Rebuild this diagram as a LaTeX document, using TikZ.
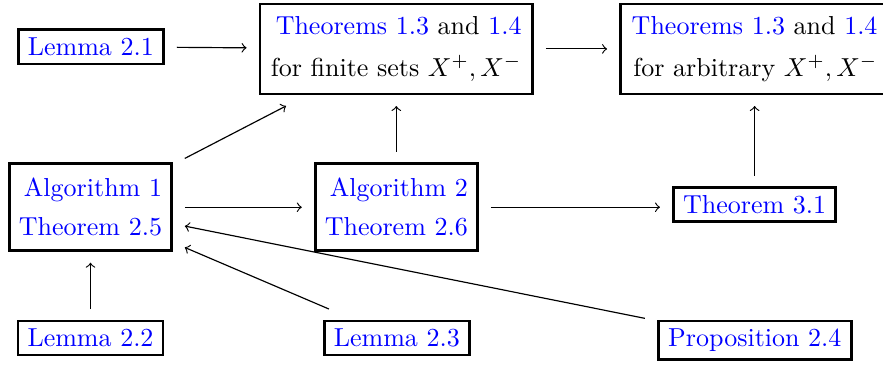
\documentclass[tikz,border=0pt]{standalone}
\usepackage{xcolor}
\begin{document}
\begin{tikzpicture}[x=0.384615pt,y=-0.384615pt,
  box/.style={draw,line width=1pt,inner sep=0pt,outer xsep=5.2pt,outer ysep=4.6pt,text=blue},
  two/.style={box,align=right},
  arr/.style={->,line width=0.45pt}]
\useasboundingbox (0,0) rectangle (883,364);
\clip (0,0) rectangle (883,364);
% nodes
\node[box,minimum width=55.8pt,minimum height=13.3pt] (l21) at (90.8,46.7) {Lemma 2.1};
\node[two,minimum width=104.7pt,minimum height=34.7pt] (fin) at (396.2,48.9)
  {Theorems 1.3 {\color{black}and} 1.4\\[4pt]{\color{black}for finite sets $X^+,X^-$}};
\node[two,minimum width=103.1pt,minimum height=34.7pt] (arb) at (754.6,48.9)
  {Theorems 1.3 {\color{black}and} 1.4\\[4pt]{\color{black}for arbitrary $X^+,X^-$}};
\node[two,minimum width=62.1pt,minimum height=33.5pt] (alg1) at (90.5,207.2)
  {Algorithm 1\\[3pt]Theorem 2.5};
\node[two,minimum width=62.3pt,minimum height=33.5pt] (alg2) at (396.3,207.2)
  {Algorithm 2\\[3pt]Theorem 2.6};
\node[box,minimum width=62.4pt,minimum height=13.1pt] (t31) at (754.6,204.7) {Theorem 3.1};
\node[box,minimum width=55.8pt,minimum height=13.1pt] (l22) at (90.5,338) {Lemma 2.2};
\node[box,minimum width=55.8pt,minimum height=13.1pt] (l23) at (396.8,338) {Lemma 2.3};
\node[box,minimum width=74.2pt,minimum height=14.9pt] (p24) at (754.8,340.3) {Proposition 2.4};
% arrows
\draw[arr] (l21) -- (fin);
\draw[arr] (fin) -- (arb);
\draw[arr] (alg1) -- (fin);
\draw[arr] (alg2.north) -- (alg2.north |- fin.south);
\draw[arr] (t31.north) -- (t31.north |- arb.south);
\draw[arr] (alg1) -- (alg2);
\draw[arr] (alg2) -- (t31.west |- alg2.center);
\draw[arr] (l22.north) -- (l22.north |- alg1.south);
\draw[arr] (l23) -- (alg1);
\draw[arr] (p24) -- (alg1);
\end{tikzpicture}
\end{document}
